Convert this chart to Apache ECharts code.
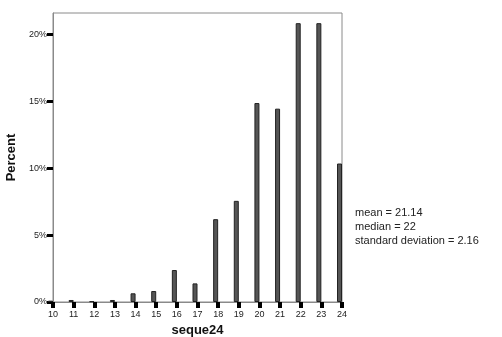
<!DOCTYPE html>
<html>
<head>
<meta charset="utf-8">
<script src="https://cdn.jsdelivr.net/npm/echarts@6/dist/echarts.min.js"></script>
<style>
html,body{margin:0;padding:0;background:#fff;}
#chart{width:502px;height:337px;}
</style>
</head>
<body>
<div id="chart"></div>
<script>
var categories = [10, 11, 12, 13, 14, 15, 16, 17, 18, 19, 20, 21, 22, 23, 24];
var percentValues = [0.1, 0.15, 0.05, 0.15, 0.65, 0.82, 2.39, 1.39, 6.19, 7.56, 14.87, 14.45, 20.84, 20.84, 10.35];
var yTicks = [0, 5, 10, 15, 20];
var statLines = ['mean = 21.14', 'median = 22', 'standard deviation = 2.16'];
var xTitle = 'seque24';
var yTitle = 'Percent';

var barData = categories.map(function (c, i) { return [c, percentValues[i]]; });
var spacerData = categories.map(function (c) { return [c, null]; });

var chart = echarts.init(document.getElementById('chart'), null, {renderer: 'canvas'});
chart.setOption({
  animation: false,
  backgroundColor: '#fff',
  grid: {left: 53, top: 13, right: 160, bottom: 35, outerBoundsMode: 'none', containLabel: false, show: true, borderColor: '#8a8a8a', borderWidth: 1, backgroundColor: 'transparent'},
  xAxis: {
    type: 'value', min: 10, max: 24, interval: 1,
    name: xTitle, nameLocation: 'middle', nameGap: 18,
    nameTextStyle: {fontFamily: 'Liberation Sans', fontWeight: 'bold', fontSize: 13, color: '#111'},
    axisLine: {show: true, lineStyle: {color: '#8a8a8a', width: 1}},
    axisTick: {show: true, length: 6, lineStyle: {color: '#000', width: 4}},
    axisLabel: {fontFamily: 'Liberation Sans', fontSize: 9, color: '#222', margin: 8},
    splitLine: {show: false}
  },
  yAxis: {
    type: 'value', min: 0, max: 21.6,
    name: yTitle, nameLocation: 'middle', nameGap: 21, nameRotate: 90,
    nameTextStyle: {fontFamily: 'Liberation Sans', fontWeight: 'bold', fontSize: 13, color: '#111'},
    axisLine: {show: true, lineStyle: {color: '#8a8a8a', width: 1}},
    axisTick: {show: true, length: 6, lineStyle: {color: '#000', width: 3}, customValues: yTicks},
    axisLabel: {fontFamily: 'Liberation Sans', fontSize: 9, color: '#222', margin: 6, formatter: '{value}%', customValues: yTicks},
    splitLine: {show: false}
  },
  series: [
    {
      type: 'bar', data: barData, barWidth: 5, barGap: '0%',
      itemStyle: {color: '#555555', borderColor: '#222222', borderWidth: 1}
    },
    {
      type: 'bar', data: spacerData, barWidth: 5, barGap: '0%',
      itemStyle: {color: 'transparent'}
    }
  ],
  graphic: [{
    type: 'text', left: 355, top: 206,
    style: {text: statLines.join('\n'), font: '11px "Liberation Sans"', fill: '#222', lineHeight: 14}
  }]
});
</script>
</body>
</html>
